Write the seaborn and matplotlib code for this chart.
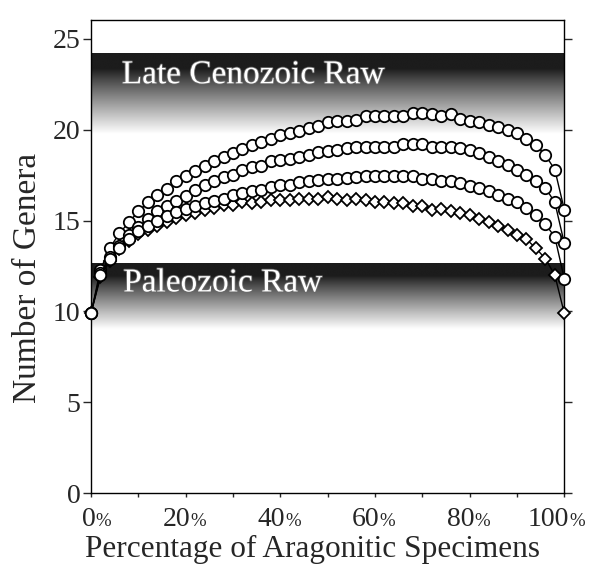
import numpy as np
import pandas as pd
import matplotlib
matplotlib.use("Agg")
import matplotlib.pyplot as plt
import seaborn as sns
from matplotlib import patheffects as pe

# ---------------- data ----------------
pct = list(range(0, 101, 2))

series_a = [9.9, 12.3, 13.5, 14.3, 14.9, 15.5, 16.0, 16.4, 16.75, 17.15,
            17.45, 17.7, 18.0, 18.3, 18.5, 18.7, 18.95, 19.15, 19.3, 19.5,
            19.7, 19.8, 19.95, 20.1, 20.2, 20.4, 20.45, 20.45, 20.55, 20.75,
            20.75, 20.75, 20.75, 20.75, 20.9, 20.9, 20.88, 20.75, 20.88, 20.6,
            20.5, 20.4, 20.25, 20.15, 20.0, 19.8, 19.5, 19.15, 18.6, 17.8,
            15.6]
series_b = [9.9, 12.1, 13.0, 13.6, 14.2, 14.65, 15.1, 15.55, 15.8, 16.1,
            16.35, 16.7, 16.95, 17.2, 17.4, 17.5, 17.8, 17.95, 18.0, 18.25,
            18.35, 18.4, 18.5, 18.6, 18.75, 18.85, 18.9, 18.98, 19.03, 19.05,
            19.05, 19.05, 19.05, 19.2, 19.2, 19.2, 19.03, 19.03, 19.07, 18.98,
            18.9, 18.7, 18.5, 18.25, 18.05, 17.8, 17.5, 17.2, 16.8, 16.0,
            13.75]
series_c = [9.9, 12.0, 12.9, 13.5, 14.0, 14.4, 14.7, 15.0, 15.25, 15.45,
            15.65, 15.8, 15.95, 16.1, 16.2, 16.4, 16.5, 16.6, 16.7, 16.85,
            16.95, 16.97, 17.14, 17.2, 17.23, 17.3, 17.3, 17.32, 17.38, 17.45,
            17.45, 17.45, 17.45, 17.45, 17.45, 17.3, 17.27, 17.15, 17.2, 17.05,
            16.9, 16.77, 16.6, 16.4, 16.2, 16.04, 15.7, 15.3, 14.8, 14.1,
            11.8]
series_d = [9.9, 11.9, 12.8, 13.45, 13.85, 14.25, 14.48, 14.7, 14.94, 15.15,
            15.3, 15.43, 15.58, 15.67, 15.86, 15.86, 16.04, 15.98, 16.0, 16.13,
            16.13, 16.15, 16.2, 16.2, 16.2, 16.28, 16.2, 16.13, 16.2, 16.13,
            16.04, 16.04, 15.95, 15.95, 15.8, 15.8, 15.6, 15.65, 15.5, 15.4,
            15.3, 15.07, 14.94, 14.7, 14.48, 14.2, 13.97, 13.48, 12.9, 12.0,
            9.9]

band_labels = ["Late Cenozoic Raw", "Paleozoic Raw"]
band_tops = [24.2, 12.65]
band_bottoms = [19.4, 8.7]

xtick_major = [0, 20, 40, 60, 80, 100]
ytick_values = [0, 5, 10, 15, 20, 25]

# ---------------- style ----------------
sns.set_style("ticks")
plt.rcParams["font.family"] = ["Liberation Serif", "DejaVu Serif"]
plt.rcParams["axes.linewidth"] = 1.0

W, H = 613, 573
fig = plt.figure(figsize=(W / 100, H / 100), dpi=100)
x0, x1, y0, y1 = 91, 564.3, 493.3, 20
ax = fig.add_axes([x0 / W, 1 - y0 / H, (x1 - x0) / W, (y0 - y1) / H])

# gradient bands
t = np.linspace(0, 1, 400)[:, None]
bright = 0.11 + 0.89 * np.clip((t - 0.18) / 0.74, 0, 1) ** 0.9
grad = np.repeat(bright, 2, axis=1)
for top, bot in zip(band_tops, band_bottoms):
    ax.imshow(grad, cmap="gray", vmin=0, vmax=1, aspect="auto",
              extent=(0, 100, bot, top), origin="upper",
              interpolation="bilinear", zorder=0)

label_x = [6.5, 6.8]
label_y = [22.55, 11.1]
for lab, lx, ly in zip(band_labels, label_x, label_y):
    ax.text(lx, ly, lab, color="white", fontsize=24, va="baseline",
            ha="left", zorder=2,
            path_effects=[pe.withStroke(linewidth=1.2, foreground="#6a6a6a")])

common = dict(color="black", lw=1.0, markerfacecolor="white",
              markeredgecolor="black", markeredgewidth=1.3, legend=False)
for vals, mk, ms, z in [(series_a, "o", 8.2, 4), (series_b, "o", 8.2, 4),
                        (series_c, "o", 8.2, 4), (series_d, "D", 5.8, 3)]:
    sns.lineplot(x=pct, y=vals, ax=ax, marker=mk, markersize=ms,
                 zorder=z, clip_on=False, **common)

ax.set_xlim(0, 100)
ax.set_ylim(0, 26.03)

ax.set_xticks(np.arange(0, 101, 10))
ax.set_xticklabels([])
ax.tick_params(axis="x", direction="out", length=3, width=1)
ax.set_yticks(ytick_values)
ax.set_yticklabels([str(v) for v in ytick_values], fontsize=20)
ax.tick_params(axis="y", direction="out", length=6, width=1, pad=1.5,
               left=True, right=True)

for v in xtick_major:
    ax.annotate(str(v), xy=(v, 0), xycoords=("data", "axes fraction"),
                xytext=(3.5, -23.5), textcoords="offset points",
                ha="right", va="baseline", fontsize=20)
    ax.annotate("%", xy=(v, 0), xycoords=("data", "axes fraction"),
                xytext=(3.5, -23.5), textcoords="offset points",
                ha="left", va="baseline", fontsize=13.5)

ax.set_xlabel("Percentage of Aragonitic Specimens", fontsize=22.5)
ax.xaxis.set_label_coords(0.469, -0.088)
ax.set_ylabel("Number of Genera", fontsize=24)
ax.yaxis.set_label_coords(-0.102, 0.456)

for s in ax.spines.values():
    s.set_visible(True)
    s.set_color("black")

fig.savefig("out.png", dpi=100)
